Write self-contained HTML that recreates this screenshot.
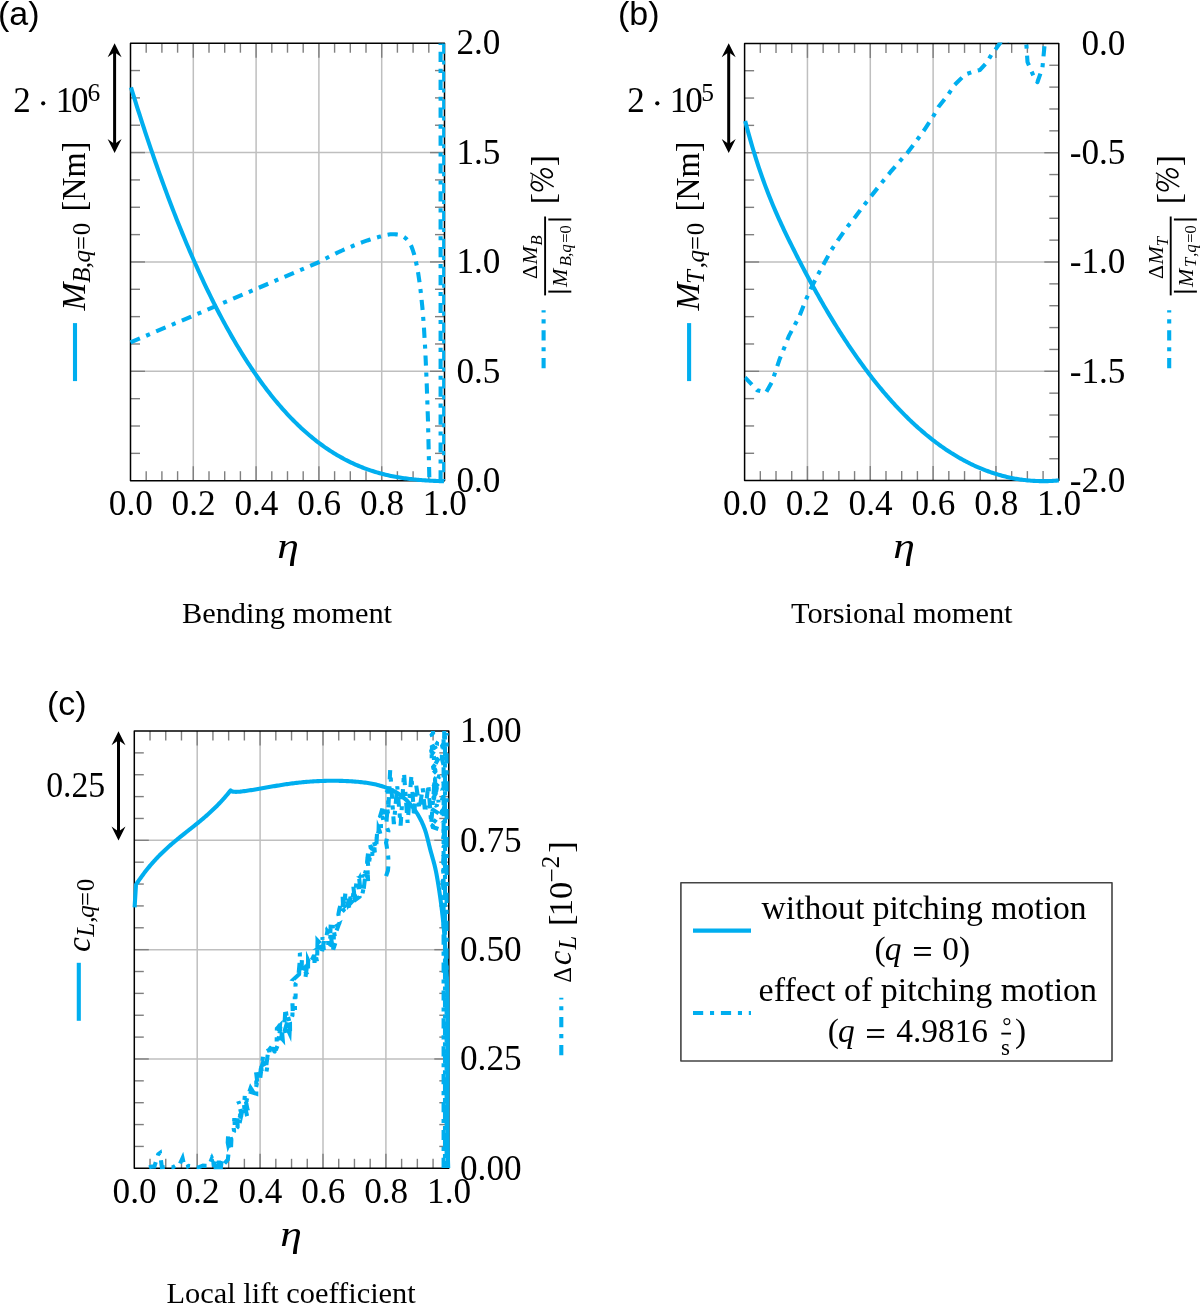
<!DOCTYPE html>
<html><head><meta charset="utf-8"><style>
html,body{margin:0;padding:0;background:#fff;}
svg{display:block;}
text{fill:#000;}
svg{-webkit-font-smoothing:antialiased;will-change:transform;}
</style></head><body>
<svg width="1201" height="1305" viewBox="0 0 1201 1305">
<rect x="0" y="0" width="1201" height="1305" fill="#fff"/>
<defs><clipPath id="cpb"><rect x="744.6" y="42.4" width="314.19999999999993" height="441.20000000000005"/></clipPath><clipPath id="cpc"><rect x="133.3" y="731.0" width="316.5" height="438.29999999999995"/></clipPath></defs>
<line x1="193.3" y1="43.2" x2="193.3" y2="480.7" stroke="#bfbfbf" stroke-width="1.5" />
<line x1="256.1" y1="43.2" x2="256.1" y2="480.7" stroke="#bfbfbf" stroke-width="1.5" />
<line x1="318.9" y1="43.2" x2="318.9" y2="480.7" stroke="#bfbfbf" stroke-width="1.5" />
<line x1="381.7" y1="43.2" x2="381.7" y2="480.7" stroke="#bfbfbf" stroke-width="1.5" />
<line x1="130.5" y1="152.57" x2="444.5" y2="152.57" stroke="#bfbfbf" stroke-width="1.5" />
<line x1="130.5" y1="261.95" x2="444.5" y2="261.95" stroke="#bfbfbf" stroke-width="1.5" />
<line x1="130.5" y1="371.32" x2="444.5" y2="371.32" stroke="#bfbfbf" stroke-width="1.5" />
<line x1="146.2" y1="480.7" x2="146.2" y2="471.2" stroke="#7f7f7f" stroke-width="1.4" />
<line x1="146.2" y1="43.2" x2="146.2" y2="52.7" stroke="#7f7f7f" stroke-width="1.4" />
<line x1="161.9" y1="480.7" x2="161.9" y2="471.2" stroke="#7f7f7f" stroke-width="1.4" />
<line x1="161.9" y1="43.2" x2="161.9" y2="52.7" stroke="#7f7f7f" stroke-width="1.4" />
<line x1="177.6" y1="480.7" x2="177.6" y2="471.2" stroke="#7f7f7f" stroke-width="1.4" />
<line x1="177.6" y1="43.2" x2="177.6" y2="52.7" stroke="#7f7f7f" stroke-width="1.4" />
<line x1="193.3" y1="480.7" x2="193.3" y2="466.2" stroke="#7f7f7f" stroke-width="1.4" />
<line x1="193.3" y1="43.2" x2="193.3" y2="57.7" stroke="#7f7f7f" stroke-width="1.4" />
<line x1="209" y1="480.7" x2="209" y2="471.2" stroke="#7f7f7f" stroke-width="1.4" />
<line x1="209" y1="43.2" x2="209" y2="52.7" stroke="#7f7f7f" stroke-width="1.4" />
<line x1="224.7" y1="480.7" x2="224.7" y2="471.2" stroke="#7f7f7f" stroke-width="1.4" />
<line x1="224.7" y1="43.2" x2="224.7" y2="52.7" stroke="#7f7f7f" stroke-width="1.4" />
<line x1="240.4" y1="480.7" x2="240.4" y2="471.2" stroke="#7f7f7f" stroke-width="1.4" />
<line x1="240.4" y1="43.2" x2="240.4" y2="52.7" stroke="#7f7f7f" stroke-width="1.4" />
<line x1="256.1" y1="480.7" x2="256.1" y2="466.2" stroke="#7f7f7f" stroke-width="1.4" />
<line x1="256.1" y1="43.2" x2="256.1" y2="57.7" stroke="#7f7f7f" stroke-width="1.4" />
<line x1="271.8" y1="480.7" x2="271.8" y2="471.2" stroke="#7f7f7f" stroke-width="1.4" />
<line x1="271.8" y1="43.2" x2="271.8" y2="52.7" stroke="#7f7f7f" stroke-width="1.4" />
<line x1="287.5" y1="480.7" x2="287.5" y2="471.2" stroke="#7f7f7f" stroke-width="1.4" />
<line x1="287.5" y1="43.2" x2="287.5" y2="52.7" stroke="#7f7f7f" stroke-width="1.4" />
<line x1="303.2" y1="480.7" x2="303.2" y2="471.2" stroke="#7f7f7f" stroke-width="1.4" />
<line x1="303.2" y1="43.2" x2="303.2" y2="52.7" stroke="#7f7f7f" stroke-width="1.4" />
<line x1="318.9" y1="480.7" x2="318.9" y2="466.2" stroke="#7f7f7f" stroke-width="1.4" />
<line x1="318.9" y1="43.2" x2="318.9" y2="57.7" stroke="#7f7f7f" stroke-width="1.4" />
<line x1="334.6" y1="480.7" x2="334.6" y2="471.2" stroke="#7f7f7f" stroke-width="1.4" />
<line x1="334.6" y1="43.2" x2="334.6" y2="52.7" stroke="#7f7f7f" stroke-width="1.4" />
<line x1="350.3" y1="480.7" x2="350.3" y2="471.2" stroke="#7f7f7f" stroke-width="1.4" />
<line x1="350.3" y1="43.2" x2="350.3" y2="52.7" stroke="#7f7f7f" stroke-width="1.4" />
<line x1="366" y1="480.7" x2="366" y2="471.2" stroke="#7f7f7f" stroke-width="1.4" />
<line x1="366" y1="43.2" x2="366" y2="52.7" stroke="#7f7f7f" stroke-width="1.4" />
<line x1="381.7" y1="480.7" x2="381.7" y2="466.2" stroke="#7f7f7f" stroke-width="1.4" />
<line x1="381.7" y1="43.2" x2="381.7" y2="57.7" stroke="#7f7f7f" stroke-width="1.4" />
<line x1="397.4" y1="480.7" x2="397.4" y2="471.2" stroke="#7f7f7f" stroke-width="1.4" />
<line x1="397.4" y1="43.2" x2="397.4" y2="52.7" stroke="#7f7f7f" stroke-width="1.4" />
<line x1="413.1" y1="480.7" x2="413.1" y2="471.2" stroke="#7f7f7f" stroke-width="1.4" />
<line x1="413.1" y1="43.2" x2="413.1" y2="52.7" stroke="#7f7f7f" stroke-width="1.4" />
<line x1="428.8" y1="480.7" x2="428.8" y2="471.2" stroke="#7f7f7f" stroke-width="1.4" />
<line x1="428.8" y1="43.2" x2="428.8" y2="52.7" stroke="#7f7f7f" stroke-width="1.4" />
<line x1="130.5" y1="70.54" x2="140" y2="70.54" stroke="#7f7f7f" stroke-width="1.4" />
<line x1="130.5" y1="97.89" x2="140" y2="97.89" stroke="#7f7f7f" stroke-width="1.4" />
<line x1="130.5" y1="125.23" x2="140" y2="125.23" stroke="#7f7f7f" stroke-width="1.4" />
<line x1="130.5" y1="152.57" x2="145" y2="152.57" stroke="#7f7f7f" stroke-width="1.4" />
<line x1="130.5" y1="179.92" x2="140" y2="179.92" stroke="#7f7f7f" stroke-width="1.4" />
<line x1="130.5" y1="207.26" x2="140" y2="207.26" stroke="#7f7f7f" stroke-width="1.4" />
<line x1="130.5" y1="234.61" x2="140" y2="234.61" stroke="#7f7f7f" stroke-width="1.4" />
<line x1="130.5" y1="261.95" x2="145" y2="261.95" stroke="#7f7f7f" stroke-width="1.4" />
<line x1="130.5" y1="289.29" x2="140" y2="289.29" stroke="#7f7f7f" stroke-width="1.4" />
<line x1="130.5" y1="316.64" x2="140" y2="316.64" stroke="#7f7f7f" stroke-width="1.4" />
<line x1="130.5" y1="343.98" x2="140" y2="343.98" stroke="#7f7f7f" stroke-width="1.4" />
<line x1="130.5" y1="371.32" x2="145" y2="371.32" stroke="#7f7f7f" stroke-width="1.4" />
<line x1="130.5" y1="398.67" x2="140" y2="398.67" stroke="#7f7f7f" stroke-width="1.4" />
<line x1="130.5" y1="426.01" x2="140" y2="426.01" stroke="#7f7f7f" stroke-width="1.4" />
<line x1="130.5" y1="453.36" x2="140" y2="453.36" stroke="#7f7f7f" stroke-width="1.4" />
<line x1="444.5" y1="70.54" x2="435" y2="70.54" stroke="#7f7f7f" stroke-width="1.4" />
<line x1="444.5" y1="97.89" x2="435" y2="97.89" stroke="#7f7f7f" stroke-width="1.4" />
<line x1="444.5" y1="125.23" x2="435" y2="125.23" stroke="#7f7f7f" stroke-width="1.4" />
<line x1="444.5" y1="152.57" x2="430" y2="152.57" stroke="#7f7f7f" stroke-width="1.4" />
<line x1="444.5" y1="179.92" x2="435" y2="179.92" stroke="#7f7f7f" stroke-width="1.4" />
<line x1="444.5" y1="207.26" x2="435" y2="207.26" stroke="#7f7f7f" stroke-width="1.4" />
<line x1="444.5" y1="234.61" x2="435" y2="234.61" stroke="#7f7f7f" stroke-width="1.4" />
<line x1="444.5" y1="261.95" x2="430" y2="261.95" stroke="#7f7f7f" stroke-width="1.4" />
<line x1="444.5" y1="289.29" x2="435" y2="289.29" stroke="#7f7f7f" stroke-width="1.4" />
<line x1="444.5" y1="316.64" x2="435" y2="316.64" stroke="#7f7f7f" stroke-width="1.4" />
<line x1="444.5" y1="343.98" x2="435" y2="343.98" stroke="#7f7f7f" stroke-width="1.4" />
<line x1="444.5" y1="371.32" x2="430" y2="371.32" stroke="#7f7f7f" stroke-width="1.4" />
<line x1="444.5" y1="398.67" x2="435" y2="398.67" stroke="#7f7f7f" stroke-width="1.4" />
<line x1="444.5" y1="426.01" x2="435" y2="426.01" stroke="#7f7f7f" stroke-width="1.4" />
<line x1="444.5" y1="453.36" x2="435" y2="453.36" stroke="#7f7f7f" stroke-width="1.4" />
<rect x="130.5" y="43.2" width="314" height="437.5" fill="none" stroke="#000" stroke-width="1.5" stroke-linejoin="round"/>
<line x1="807.44" y1="43.4" x2="807.44" y2="480.6" stroke="#bfbfbf" stroke-width="1.5" />
<line x1="870.28" y1="43.4" x2="870.28" y2="480.6" stroke="#bfbfbf" stroke-width="1.5" />
<line x1="933.12" y1="43.4" x2="933.12" y2="480.6" stroke="#bfbfbf" stroke-width="1.5" />
<line x1="995.96" y1="43.4" x2="995.96" y2="480.6" stroke="#bfbfbf" stroke-width="1.5" />
<line x1="744.6" y1="152.7" x2="1058.8" y2="152.7" stroke="#bfbfbf" stroke-width="1.5" />
<line x1="744.6" y1="262" x2="1058.8" y2="262" stroke="#bfbfbf" stroke-width="1.5" />
<line x1="744.6" y1="371.3" x2="1058.8" y2="371.3" stroke="#bfbfbf" stroke-width="1.5" />
<line x1="760.31" y1="480.6" x2="760.31" y2="471.1" stroke="#7f7f7f" stroke-width="1.4" />
<line x1="760.31" y1="43.4" x2="760.31" y2="52.9" stroke="#7f7f7f" stroke-width="1.4" />
<line x1="776.02" y1="480.6" x2="776.02" y2="471.1" stroke="#7f7f7f" stroke-width="1.4" />
<line x1="776.02" y1="43.4" x2="776.02" y2="52.9" stroke="#7f7f7f" stroke-width="1.4" />
<line x1="791.73" y1="480.6" x2="791.73" y2="471.1" stroke="#7f7f7f" stroke-width="1.4" />
<line x1="791.73" y1="43.4" x2="791.73" y2="52.9" stroke="#7f7f7f" stroke-width="1.4" />
<line x1="807.44" y1="480.6" x2="807.44" y2="466.1" stroke="#7f7f7f" stroke-width="1.4" />
<line x1="807.44" y1="43.4" x2="807.44" y2="57.9" stroke="#7f7f7f" stroke-width="1.4" />
<line x1="823.15" y1="480.6" x2="823.15" y2="471.1" stroke="#7f7f7f" stroke-width="1.4" />
<line x1="823.15" y1="43.4" x2="823.15" y2="52.9" stroke="#7f7f7f" stroke-width="1.4" />
<line x1="838.86" y1="480.6" x2="838.86" y2="471.1" stroke="#7f7f7f" stroke-width="1.4" />
<line x1="838.86" y1="43.4" x2="838.86" y2="52.9" stroke="#7f7f7f" stroke-width="1.4" />
<line x1="854.57" y1="480.6" x2="854.57" y2="471.1" stroke="#7f7f7f" stroke-width="1.4" />
<line x1="854.57" y1="43.4" x2="854.57" y2="52.9" stroke="#7f7f7f" stroke-width="1.4" />
<line x1="870.28" y1="480.6" x2="870.28" y2="466.1" stroke="#7f7f7f" stroke-width="1.4" />
<line x1="870.28" y1="43.4" x2="870.28" y2="57.9" stroke="#7f7f7f" stroke-width="1.4" />
<line x1="885.99" y1="480.6" x2="885.99" y2="471.1" stroke="#7f7f7f" stroke-width="1.4" />
<line x1="885.99" y1="43.4" x2="885.99" y2="52.9" stroke="#7f7f7f" stroke-width="1.4" />
<line x1="901.7" y1="480.6" x2="901.7" y2="471.1" stroke="#7f7f7f" stroke-width="1.4" />
<line x1="901.7" y1="43.4" x2="901.7" y2="52.9" stroke="#7f7f7f" stroke-width="1.4" />
<line x1="917.41" y1="480.6" x2="917.41" y2="471.1" stroke="#7f7f7f" stroke-width="1.4" />
<line x1="917.41" y1="43.4" x2="917.41" y2="52.9" stroke="#7f7f7f" stroke-width="1.4" />
<line x1="933.12" y1="480.6" x2="933.12" y2="466.1" stroke="#7f7f7f" stroke-width="1.4" />
<line x1="933.12" y1="43.4" x2="933.12" y2="57.9" stroke="#7f7f7f" stroke-width="1.4" />
<line x1="948.83" y1="480.6" x2="948.83" y2="471.1" stroke="#7f7f7f" stroke-width="1.4" />
<line x1="948.83" y1="43.4" x2="948.83" y2="52.9" stroke="#7f7f7f" stroke-width="1.4" />
<line x1="964.54" y1="480.6" x2="964.54" y2="471.1" stroke="#7f7f7f" stroke-width="1.4" />
<line x1="964.54" y1="43.4" x2="964.54" y2="52.9" stroke="#7f7f7f" stroke-width="1.4" />
<line x1="980.25" y1="480.6" x2="980.25" y2="471.1" stroke="#7f7f7f" stroke-width="1.4" />
<line x1="980.25" y1="43.4" x2="980.25" y2="52.9" stroke="#7f7f7f" stroke-width="1.4" />
<line x1="995.96" y1="480.6" x2="995.96" y2="466.1" stroke="#7f7f7f" stroke-width="1.4" />
<line x1="995.96" y1="43.4" x2="995.96" y2="57.9" stroke="#7f7f7f" stroke-width="1.4" />
<line x1="1011.67" y1="480.6" x2="1011.67" y2="471.1" stroke="#7f7f7f" stroke-width="1.4" />
<line x1="1011.67" y1="43.4" x2="1011.67" y2="52.9" stroke="#7f7f7f" stroke-width="1.4" />
<line x1="1027.38" y1="480.6" x2="1027.38" y2="471.1" stroke="#7f7f7f" stroke-width="1.4" />
<line x1="1027.38" y1="43.4" x2="1027.38" y2="52.9" stroke="#7f7f7f" stroke-width="1.4" />
<line x1="1043.09" y1="480.6" x2="1043.09" y2="471.1" stroke="#7f7f7f" stroke-width="1.4" />
<line x1="1043.09" y1="43.4" x2="1043.09" y2="52.9" stroke="#7f7f7f" stroke-width="1.4" />
<line x1="744.6" y1="70.72" x2="754.1" y2="70.72" stroke="#7f7f7f" stroke-width="1.4" />
<line x1="744.6" y1="98.05" x2="754.1" y2="98.05" stroke="#7f7f7f" stroke-width="1.4" />
<line x1="744.6" y1="125.38" x2="754.1" y2="125.38" stroke="#7f7f7f" stroke-width="1.4" />
<line x1="744.6" y1="152.7" x2="759.1" y2="152.7" stroke="#7f7f7f" stroke-width="1.4" />
<line x1="744.6" y1="180.03" x2="754.1" y2="180.03" stroke="#7f7f7f" stroke-width="1.4" />
<line x1="744.6" y1="207.35" x2="754.1" y2="207.35" stroke="#7f7f7f" stroke-width="1.4" />
<line x1="744.6" y1="234.68" x2="754.1" y2="234.68" stroke="#7f7f7f" stroke-width="1.4" />
<line x1="744.6" y1="262" x2="759.1" y2="262" stroke="#7f7f7f" stroke-width="1.4" />
<line x1="744.6" y1="289.32" x2="754.1" y2="289.32" stroke="#7f7f7f" stroke-width="1.4" />
<line x1="744.6" y1="316.65" x2="754.1" y2="316.65" stroke="#7f7f7f" stroke-width="1.4" />
<line x1="744.6" y1="343.98" x2="754.1" y2="343.98" stroke="#7f7f7f" stroke-width="1.4" />
<line x1="744.6" y1="371.3" x2="759.1" y2="371.3" stroke="#7f7f7f" stroke-width="1.4" />
<line x1="744.6" y1="398.62" x2="754.1" y2="398.62" stroke="#7f7f7f" stroke-width="1.4" />
<line x1="744.6" y1="425.95" x2="754.1" y2="425.95" stroke="#7f7f7f" stroke-width="1.4" />
<line x1="744.6" y1="453.28" x2="754.1" y2="453.28" stroke="#7f7f7f" stroke-width="1.4" />
<line x1="1058.8" y1="65.26" x2="1049.3" y2="65.26" stroke="#7f7f7f" stroke-width="1.4" />
<line x1="1058.8" y1="87.12" x2="1049.3" y2="87.12" stroke="#7f7f7f" stroke-width="1.4" />
<line x1="1058.8" y1="108.98" x2="1049.3" y2="108.98" stroke="#7f7f7f" stroke-width="1.4" />
<line x1="1058.8" y1="130.84" x2="1049.3" y2="130.84" stroke="#7f7f7f" stroke-width="1.4" />
<line x1="1058.8" y1="152.7" x2="1044.3" y2="152.7" stroke="#7f7f7f" stroke-width="1.4" />
<line x1="1058.8" y1="174.56" x2="1049.3" y2="174.56" stroke="#7f7f7f" stroke-width="1.4" />
<line x1="1058.8" y1="196.42" x2="1049.3" y2="196.42" stroke="#7f7f7f" stroke-width="1.4" />
<line x1="1058.8" y1="218.28" x2="1049.3" y2="218.28" stroke="#7f7f7f" stroke-width="1.4" />
<line x1="1058.8" y1="240.14" x2="1049.3" y2="240.14" stroke="#7f7f7f" stroke-width="1.4" />
<line x1="1058.8" y1="262" x2="1044.3" y2="262" stroke="#7f7f7f" stroke-width="1.4" />
<line x1="1058.8" y1="283.86" x2="1049.3" y2="283.86" stroke="#7f7f7f" stroke-width="1.4" />
<line x1="1058.8" y1="305.72" x2="1049.3" y2="305.72" stroke="#7f7f7f" stroke-width="1.4" />
<line x1="1058.8" y1="327.58" x2="1049.3" y2="327.58" stroke="#7f7f7f" stroke-width="1.4" />
<line x1="1058.8" y1="349.44" x2="1049.3" y2="349.44" stroke="#7f7f7f" stroke-width="1.4" />
<line x1="1058.8" y1="371.3" x2="1044.3" y2="371.3" stroke="#7f7f7f" stroke-width="1.4" />
<line x1="1058.8" y1="393.16" x2="1049.3" y2="393.16" stroke="#7f7f7f" stroke-width="1.4" />
<line x1="1058.8" y1="415.02" x2="1049.3" y2="415.02" stroke="#7f7f7f" stroke-width="1.4" />
<line x1="1058.8" y1="436.88" x2="1049.3" y2="436.88" stroke="#7f7f7f" stroke-width="1.4" />
<line x1="1058.8" y1="458.74" x2="1049.3" y2="458.74" stroke="#7f7f7f" stroke-width="1.4" />
<rect x="744.6" y="43.4" width="314.2" height="437.2" fill="none" stroke="#000" stroke-width="1.5" stroke-linejoin="round"/>
<line x1="197.2" y1="731" x2="197.2" y2="1168.3" stroke="#bfbfbf" stroke-width="1.5" />
<line x1="260.1" y1="731" x2="260.1" y2="1168.3" stroke="#bfbfbf" stroke-width="1.5" />
<line x1="323" y1="731" x2="323" y2="1168.3" stroke="#bfbfbf" stroke-width="1.5" />
<line x1="385.9" y1="731" x2="385.9" y2="1168.3" stroke="#bfbfbf" stroke-width="1.5" />
<line x1="134.3" y1="840.33" x2="448.8" y2="840.33" stroke="#bfbfbf" stroke-width="1.5" />
<line x1="134.3" y1="949.65" x2="448.8" y2="949.65" stroke="#bfbfbf" stroke-width="1.5" />
<line x1="134.3" y1="1058.97" x2="448.8" y2="1058.97" stroke="#bfbfbf" stroke-width="1.5" />
<line x1="150.03" y1="1168.3" x2="150.03" y2="1158.8" stroke="#7f7f7f" stroke-width="1.4" />
<line x1="150.03" y1="731" x2="150.03" y2="740.5" stroke="#7f7f7f" stroke-width="1.4" />
<line x1="165.75" y1="1168.3" x2="165.75" y2="1158.8" stroke="#7f7f7f" stroke-width="1.4" />
<line x1="165.75" y1="731" x2="165.75" y2="740.5" stroke="#7f7f7f" stroke-width="1.4" />
<line x1="181.48" y1="1168.3" x2="181.48" y2="1158.8" stroke="#7f7f7f" stroke-width="1.4" />
<line x1="181.48" y1="731" x2="181.48" y2="740.5" stroke="#7f7f7f" stroke-width="1.4" />
<line x1="197.2" y1="1168.3" x2="197.2" y2="1153.8" stroke="#7f7f7f" stroke-width="1.4" />
<line x1="197.2" y1="731" x2="197.2" y2="745.5" stroke="#7f7f7f" stroke-width="1.4" />
<line x1="212.93" y1="1168.3" x2="212.93" y2="1158.8" stroke="#7f7f7f" stroke-width="1.4" />
<line x1="212.93" y1="731" x2="212.93" y2="740.5" stroke="#7f7f7f" stroke-width="1.4" />
<line x1="228.65" y1="1168.3" x2="228.65" y2="1158.8" stroke="#7f7f7f" stroke-width="1.4" />
<line x1="228.65" y1="731" x2="228.65" y2="740.5" stroke="#7f7f7f" stroke-width="1.4" />
<line x1="244.38" y1="1168.3" x2="244.38" y2="1158.8" stroke="#7f7f7f" stroke-width="1.4" />
<line x1="244.38" y1="731" x2="244.38" y2="740.5" stroke="#7f7f7f" stroke-width="1.4" />
<line x1="260.1" y1="1168.3" x2="260.1" y2="1153.8" stroke="#7f7f7f" stroke-width="1.4" />
<line x1="260.1" y1="731" x2="260.1" y2="745.5" stroke="#7f7f7f" stroke-width="1.4" />
<line x1="275.83" y1="1168.3" x2="275.83" y2="1158.8" stroke="#7f7f7f" stroke-width="1.4" />
<line x1="275.83" y1="731" x2="275.83" y2="740.5" stroke="#7f7f7f" stroke-width="1.4" />
<line x1="291.55" y1="1168.3" x2="291.55" y2="1158.8" stroke="#7f7f7f" stroke-width="1.4" />
<line x1="291.55" y1="731" x2="291.55" y2="740.5" stroke="#7f7f7f" stroke-width="1.4" />
<line x1="307.27" y1="1168.3" x2="307.27" y2="1158.8" stroke="#7f7f7f" stroke-width="1.4" />
<line x1="307.27" y1="731" x2="307.27" y2="740.5" stroke="#7f7f7f" stroke-width="1.4" />
<line x1="323" y1="1168.3" x2="323" y2="1153.8" stroke="#7f7f7f" stroke-width="1.4" />
<line x1="323" y1="731" x2="323" y2="745.5" stroke="#7f7f7f" stroke-width="1.4" />
<line x1="338.73" y1="1168.3" x2="338.73" y2="1158.8" stroke="#7f7f7f" stroke-width="1.4" />
<line x1="338.73" y1="731" x2="338.73" y2="740.5" stroke="#7f7f7f" stroke-width="1.4" />
<line x1="354.45" y1="1168.3" x2="354.45" y2="1158.8" stroke="#7f7f7f" stroke-width="1.4" />
<line x1="354.45" y1="731" x2="354.45" y2="740.5" stroke="#7f7f7f" stroke-width="1.4" />
<line x1="370.18" y1="1168.3" x2="370.18" y2="1158.8" stroke="#7f7f7f" stroke-width="1.4" />
<line x1="370.18" y1="731" x2="370.18" y2="740.5" stroke="#7f7f7f" stroke-width="1.4" />
<line x1="385.9" y1="1168.3" x2="385.9" y2="1153.8" stroke="#7f7f7f" stroke-width="1.4" />
<line x1="385.9" y1="731" x2="385.9" y2="745.5" stroke="#7f7f7f" stroke-width="1.4" />
<line x1="401.62" y1="1168.3" x2="401.62" y2="1158.8" stroke="#7f7f7f" stroke-width="1.4" />
<line x1="401.62" y1="731" x2="401.62" y2="740.5" stroke="#7f7f7f" stroke-width="1.4" />
<line x1="417.35" y1="1168.3" x2="417.35" y2="1158.8" stroke="#7f7f7f" stroke-width="1.4" />
<line x1="417.35" y1="731" x2="417.35" y2="740.5" stroke="#7f7f7f" stroke-width="1.4" />
<line x1="433.07" y1="1168.3" x2="433.07" y2="1158.8" stroke="#7f7f7f" stroke-width="1.4" />
<line x1="433.07" y1="731" x2="433.07" y2="740.5" stroke="#7f7f7f" stroke-width="1.4" />
<line x1="134.3" y1="752.87" x2="143.8" y2="752.87" stroke="#7f7f7f" stroke-width="1.4" />
<line x1="134.3" y1="774.73" x2="143.8" y2="774.73" stroke="#7f7f7f" stroke-width="1.4" />
<line x1="134.3" y1="796.6" x2="143.8" y2="796.6" stroke="#7f7f7f" stroke-width="1.4" />
<line x1="134.3" y1="818.46" x2="143.8" y2="818.46" stroke="#7f7f7f" stroke-width="1.4" />
<line x1="134.3" y1="840.33" x2="148.8" y2="840.33" stroke="#7f7f7f" stroke-width="1.4" />
<line x1="134.3" y1="862.19" x2="143.8" y2="862.19" stroke="#7f7f7f" stroke-width="1.4" />
<line x1="134.3" y1="884.05" x2="143.8" y2="884.05" stroke="#7f7f7f" stroke-width="1.4" />
<line x1="134.3" y1="905.92" x2="143.8" y2="905.92" stroke="#7f7f7f" stroke-width="1.4" />
<line x1="134.3" y1="927.78" x2="143.8" y2="927.78" stroke="#7f7f7f" stroke-width="1.4" />
<line x1="134.3" y1="949.65" x2="148.8" y2="949.65" stroke="#7f7f7f" stroke-width="1.4" />
<line x1="134.3" y1="971.51" x2="143.8" y2="971.51" stroke="#7f7f7f" stroke-width="1.4" />
<line x1="134.3" y1="993.38" x2="143.8" y2="993.38" stroke="#7f7f7f" stroke-width="1.4" />
<line x1="134.3" y1="1015.25" x2="143.8" y2="1015.25" stroke="#7f7f7f" stroke-width="1.4" />
<line x1="134.3" y1="1037.11" x2="143.8" y2="1037.11" stroke="#7f7f7f" stroke-width="1.4" />
<line x1="134.3" y1="1058.97" x2="148.8" y2="1058.97" stroke="#7f7f7f" stroke-width="1.4" />
<line x1="134.3" y1="1080.84" x2="143.8" y2="1080.84" stroke="#7f7f7f" stroke-width="1.4" />
<line x1="134.3" y1="1102.7" x2="143.8" y2="1102.7" stroke="#7f7f7f" stroke-width="1.4" />
<line x1="134.3" y1="1124.57" x2="143.8" y2="1124.57" stroke="#7f7f7f" stroke-width="1.4" />
<line x1="134.3" y1="1146.43" x2="143.8" y2="1146.43" stroke="#7f7f7f" stroke-width="1.4" />
<line x1="448.8" y1="752.87" x2="439.3" y2="752.87" stroke="#7f7f7f" stroke-width="1.4" />
<line x1="448.8" y1="774.73" x2="439.3" y2="774.73" stroke="#7f7f7f" stroke-width="1.4" />
<line x1="448.8" y1="796.6" x2="439.3" y2="796.6" stroke="#7f7f7f" stroke-width="1.4" />
<line x1="448.8" y1="818.46" x2="439.3" y2="818.46" stroke="#7f7f7f" stroke-width="1.4" />
<line x1="448.8" y1="840.33" x2="434.3" y2="840.33" stroke="#7f7f7f" stroke-width="1.4" />
<line x1="448.8" y1="862.19" x2="439.3" y2="862.19" stroke="#7f7f7f" stroke-width="1.4" />
<line x1="448.8" y1="884.05" x2="439.3" y2="884.05" stroke="#7f7f7f" stroke-width="1.4" />
<line x1="448.8" y1="905.92" x2="439.3" y2="905.92" stroke="#7f7f7f" stroke-width="1.4" />
<line x1="448.8" y1="927.78" x2="439.3" y2="927.78" stroke="#7f7f7f" stroke-width="1.4" />
<line x1="448.8" y1="949.65" x2="434.3" y2="949.65" stroke="#7f7f7f" stroke-width="1.4" />
<line x1="448.8" y1="971.51" x2="439.3" y2="971.51" stroke="#7f7f7f" stroke-width="1.4" />
<line x1="448.8" y1="993.38" x2="439.3" y2="993.38" stroke="#7f7f7f" stroke-width="1.4" />
<line x1="448.8" y1="1015.25" x2="439.3" y2="1015.25" stroke="#7f7f7f" stroke-width="1.4" />
<line x1="448.8" y1="1037.11" x2="439.3" y2="1037.11" stroke="#7f7f7f" stroke-width="1.4" />
<line x1="448.8" y1="1058.97" x2="434.3" y2="1058.97" stroke="#7f7f7f" stroke-width="1.4" />
<line x1="448.8" y1="1080.84" x2="439.3" y2="1080.84" stroke="#7f7f7f" stroke-width="1.4" />
<line x1="448.8" y1="1102.7" x2="439.3" y2="1102.7" stroke="#7f7f7f" stroke-width="1.4" />
<line x1="448.8" y1="1124.57" x2="439.3" y2="1124.57" stroke="#7f7f7f" stroke-width="1.4" />
<line x1="448.8" y1="1146.43" x2="439.3" y2="1146.43" stroke="#7f7f7f" stroke-width="1.4" />
<rect x="134.3" y="731" width="314.5" height="437.3" fill="none" stroke="#000" stroke-width="1.5" stroke-linejoin="round"/>
<path d="M131 87.41 L132.43 92.05 L133.86 96.66 L135.29 101.23 L136.72 105.77 L138.15 110.27 L139.58 114.74 L141 119.18 L142.43 123.58 L143.86 127.95 L145.29 132.28 L146.72 136.59 L148.15 140.86 L149.58 145.09 L151.01 149.29 L152.44 153.46 L153.87 157.6 L155.3 161.71 L156.73 165.78 L158.16 169.82 L159.58 173.82 L161.01 177.8 L162.44 181.74 L163.87 185.65 L165.3 189.53 L166.73 193.37 L168.16 197.19 L169.59 200.97 L171.02 204.72 L172.45 208.44 L173.88 212.13 L175.31 215.79 L176.74 219.41 L178.16 223.01 L179.59 226.57 L181.02 230.1 L182.45 233.61 L183.88 237.08 L185.31 240.52 L186.74 243.93 L188.17 247.31 L189.6 250.66 L191.03 253.98 L192.46 257.27 L193.89 260.53 L195.32 263.75 L196.74 266.95 L198.17 270.12 L199.6 273.27 L201.03 276.38 L202.46 279.46 L203.89 282.51 L205.32 285.54 L206.75 288.53 L208.18 291.5 L209.61 294.43 L211.04 297.34 L212.47 300.22 L213.89 303.08 L215.32 305.9 L216.75 308.69 L218.18 311.46 L219.61 314.2 L221.04 316.91 L222.47 319.6 L223.9 322.25 L225.33 324.88 L226.76 327.48 L228.19 330.06 L229.62 332.6 L231.05 335.12 L232.47 337.62 L233.9 340.08 L235.33 342.52 L236.76 344.93 L238.19 347.32 L239.62 349.68 L241.05 352.01 L242.48 354.32 L243.91 356.6 L245.34 358.86 L246.77 361.09 L248.2 363.29 L249.63 365.47 L251.05 367.62 L252.48 369.75 L253.91 371.85 L255.34 373.93 L256.77 375.98 L258.2 378.01 L259.63 380.01 L261.06 381.99 L262.49 383.94 L263.92 385.87 L265.35 387.78 L266.78 389.66 L268.21 391.51 L269.63 393.35 L271.06 395.16 L272.49 396.94 L273.92 398.7 L275.35 400.44 L276.78 402.16 L278.21 403.85 L279.64 405.52 L281.07 407.17 L282.5 408.79 L283.93 410.39 L285.36 411.97 L286.79 413.53 L288.21 415.06 L289.64 416.57 L291.07 418.06 L292.5 419.53 L293.93 420.97 L295.36 422.4 L296.79 423.8 L298.22 425.18 L299.65 426.54 L301.08 427.88 L302.51 429.2 L303.94 430.5 L305.37 431.78 L306.79 433.03 L308.22 434.27 L309.65 435.48 L311.08 436.68 L312.51 437.85 L313.94 439.01 L315.37 440.15 L316.8 441.26 L318.23 442.36 L319.66 443.44 L321.09 444.49 L322.52 445.53 L323.95 446.55 L325.37 447.56 L326.8 448.54 L328.23 449.5 L329.66 450.45 L331.09 451.38 L332.52 452.29 L333.95 453.18 L335.38 454.05 L336.81 454.91 L338.24 455.75 L339.67 456.57 L341.1 457.37 L342.53 458.16 L343.95 458.93 L345.38 459.69 L346.81 460.42 L348.24 461.14 L349.67 461.85 L351.1 462.54 L352.53 463.21 L353.96 463.87 L355.39 464.51 L356.82 465.13 L358.25 465.74 L359.68 466.34 L361.11 466.92 L362.53 467.48 L363.96 468.04 L365.39 468.57 L366.82 469.09 L368.25 469.6 L369.68 470.09 L371.11 470.57 L372.54 471.04 L373.97 471.49 L375.4 471.93 L376.83 472.36 L378.26 472.77 L379.68 473.17 L381.11 473.56 L382.54 473.94 L383.97 474.3 L385.4 474.65 L386.83 474.99 L388.26 475.32 L389.69 475.63 L391.12 475.94 L392.55 476.23 L393.98 476.51 L395.41 476.78 L396.84 477.04 L398.26 477.3 L399.69 477.54 L401.12 477.77 L402.55 477.99 L403.98 478.2 L405.41 478.4 L406.84 478.59 L408.27 478.78 L409.7 478.95 L411.13 479.12 L412.56 479.28 L413.99 479.43 L415.42 479.57 L416.84 479.71 L418.27 479.84 L419.7 479.96 L421.13 480.07 L422.56 480.18 L423.99 480.28 L425.42 480.38 L426.85 480.47 L428.28 480.55 L429.71 480.63 L431.14 480.71 L432.57 480.78 L434 480.84 L435.42 480.91 L436.85 480.97 L438.28 481.02 L439.71 481.08 L441.14 481.13 L442.57 481.18 L444 481.23" fill="none" stroke="#00AEEF" stroke-width="4.1" stroke-linejoin="round"/>
<path d="M130.5 342.4 L319.3 262 L320.69 261.23 L322.09 260.47 L323.48 259.72 L324.87 258.98 L326.27 258.25 L327.66 257.52 L329.06 256.8 L330.45 256.09 L331.84 255.39 L333.24 254.7 L334.63 254.02 L336.02 253.34 L337.42 252.68 L338.81 252.02 L340.21 251.38 L341.6 250.74 L342.99 250.11 L344.39 249.49 L345.78 248.89 L347.17 248.29 L348.57 247.7 L349.96 247.13 L351.35 246.56 L352.75 246 L354.14 245.44 L355.54 244.89 L356.93 244.33 L358.32 243.79 L359.72 243.25 L361.11 242.72 L362.5 242.19 L363.9 241.67 L365.29 241.17 L366.68 240.67 L368.08 240.19 L369.47 239.71 L370.87 239.25 L372.26 238.81 L373.65 238.38 L375.05 237.97 L376.44 237.58 L377.83 237.2 L379.23 236.84 L380.62 236.49 L382.02 236.11 L383.41 235.73 L384.8 235.36 L386.2 235.02 L387.59 234.72 L388.98 234.47 L390.38 234.3 L391.77 234.21 L393.16 234.21 L394.56 234.28 L395.95 234.4 L397.35 234.57 L398.74 234.78 L400.13 235.03 L401.53 235.5 L402.92 236.27 L404.31 237.24 L405.71 238.3 L407.1 239.63 L408.49 241.29 L409.89 243.32 L411.28 246.06 L412.68 249.75 L414.07 254.13 L415.46 259.54 L416.86 266.07 L418.25 273.65 L419.64 282.98 L421.04 294.35 L422.43 308.06 L423.83 325.49 L425.22 349.48 L426.61 380.73 L428.01 421.27 L429.4 480.8" fill="none" stroke="#00AEEF" stroke-width="4.1" stroke-dasharray="10.2 6.8 4.1 6.8" stroke-linejoin="round"/>
<path d="M440.6 480.5 L440.6 43.5" fill="none" stroke="#00AEEF" stroke-width="4.1" stroke-dasharray="10.2 6.8 4.1 6.8" stroke-linejoin="round"/>
<path d="M443.6 43.5 L443.6 480.5" fill="none" stroke="#00AEEF" stroke-width="3" stroke-dasharray="10.2 6.8 4.1 6.8" stroke-linejoin="round"/>
<path d="M745.2 121.06 L746.41 125.67 L747.62 130.18 L748.83 134.59 L750.04 138.91 L751.25 143.12 L752.46 147.24 L753.68 151.28 L754.89 155.22 L756.1 159.08 L757.31 162.85 L758.52 166.54 L759.73 170.15 L760.94 173.69 L762.15 177.15 L763.36 180.55 L764.57 183.87 L765.78 187.13 L766.99 190.32 L768.21 193.45 L769.42 196.53 L770.63 199.55 L771.84 202.51 L773.05 205.43 L774.26 208.29 L775.47 211.11 L776.68 213.88 L777.89 216.62 L779.1 219.31 L780.31 221.97 L781.52 224.6 L782.74 227.19 L783.95 229.76 L785.16 232.3 L786.37 234.81 L787.58 237.31 L788.79 239.78 L790 242.24 L791.21 244.69 L792.42 247.12 L793.63 249.54 L794.84 251.95 L796.05 254.34 L797.26 256.72 L798.48 259.08 L799.69 261.43 L800.9 263.77 L802.11 266.1 L803.32 268.41 L804.53 270.71 L805.74 272.99 L806.95 275.26 L808.16 277.52 L809.37 279.77 L810.58 282 L811.79 284.22 L813.01 286.42 L814.22 288.61 L815.43 290.79 L816.64 292.95 L817.85 295.11 L819.06 297.24 L820.27 299.37 L821.48 301.48 L822.69 303.58 L823.9 305.66 L825.11 307.73 L826.32 309.79 L827.54 311.83 L828.75 313.86 L829.96 315.88 L831.17 317.89 L832.38 319.88 L833.59 321.85 L834.8 323.82 L836.01 325.77 L837.22 327.71 L838.43 329.63 L839.64 331.54 L840.85 333.44 L842.06 335.32 L843.28 337.2 L844.49 339.05 L845.7 340.9 L846.91 342.73 L848.12 344.55 L849.33 346.35 L850.54 348.14 L851.75 349.92 L852.96 351.69 L854.17 353.44 L855.38 355.18 L856.59 356.9 L857.81 358.62 L859.02 360.31 L860.23 362 L861.44 363.67 L862.65 365.33 L863.86 366.98 L865.07 368.61 L866.28 370.23 L867.49 371.84 L868.7 373.43 L869.91 375.01 L871.12 376.58 L872.34 378.14 L873.55 379.68 L874.76 381.21 L875.97 382.73 L877.18 384.23 L878.39 385.72 L879.6 387.2 L880.81 388.67 L882.02 390.12 L883.23 391.56 L884.44 392.99 L885.65 394.4 L886.86 395.81 L888.08 397.2 L889.29 398.57 L890.5 399.94 L891.71 401.29 L892.92 402.63 L894.13 403.96 L895.34 405.27 L896.55 406.58 L897.76 407.87 L898.97 409.14 L900.18 410.41 L901.39 411.66 L902.61 412.91 L903.82 414.14 L905.03 415.35 L906.24 416.56 L907.45 417.75 L908.66 418.93 L909.87 420.1 L911.08 421.26 L912.29 422.4 L913.5 423.53 L914.71 424.65 L915.92 425.76 L917.14 426.86 L918.35 427.95 L919.56 429.02 L920.77 430.08 L921.98 431.13 L923.19 432.17 L924.4 433.19 L925.61 434.21 L926.82 435.21 L928.03 436.2 L929.24 437.18 L930.45 438.15 L931.66 439.1 L932.88 440.05 L934.09 440.98 L935.3 441.9 L936.51 442.81 L937.72 443.71 L938.93 444.6 L940.14 445.47 L941.35 446.34 L942.56 447.19 L943.77 448.03 L944.98 448.86 L946.19 449.68 L947.41 450.49 L948.62 451.29 L949.83 452.07 L951.04 452.85 L952.25 453.61 L953.46 454.36 L954.67 455.1 L955.88 455.83 L957.09 456.55 L958.3 457.26 L959.51 457.96 L960.72 458.65 L961.94 459.32 L963.15 459.99 L964.36 460.64 L965.57 461.28 L966.78 461.91 L967.99 462.53 L969.2 463.15 L970.41 463.74 L971.62 464.33 L972.83 464.91 L974.04 465.48 L975.25 466.04 L976.46 466.58 L977.68 467.12 L978.89 467.65 L980.1 468.16 L981.31 468.66 L982.52 469.16 L983.73 469.64 L984.94 470.12 L986.15 470.58 L987.36 471.03 L988.57 471.47 L989.78 471.91 L990.99 472.33 L992.21 472.74 L993.42 473.14 L994.63 473.53 L995.84 473.91 L997.05 474.28 L998.26 474.64 L999.47 474.99 L1000.68 475.34 L1001.89 475.67 L1003.1 475.99 L1004.31 476.3 L1005.52 476.6 L1006.74 476.89 L1007.95 477.17 L1009.16 477.44 L1010.37 477.7 L1011.58 477.95 L1012.79 478.2 L1014 478.43 L1015.21 478.65 L1016.42 478.86 L1017.63 479.06 L1018.84 479.26 L1020.05 479.44 L1021.26 479.62 L1022.48 479.78 L1023.69 479.94 L1024.9 480.08 L1026.11 480.22 L1027.32 480.34 L1028.53 480.46 L1029.74 480.57 L1030.95 480.67 L1032.16 480.76 L1033.37 480.84 L1034.58 480.91 L1035.79 480.97 L1037.01 481.02 L1038.22 481.06 L1039.43 481.1 L1040.64 481.12 L1041.85 481.14 L1043.06 481.14 L1044.27 481.14 L1045.48 481.13 L1046.69 481.11 L1047.9 481.08 L1049.11 481.04 L1050.32 480.99 L1051.54 480.93 L1052.75 480.87 L1053.96 480.79 L1055.17 480.71 L1056.38 480.62 L1057.59 480.52 L1058.8 480.41" fill="none" stroke="#00AEEF" stroke-width="4.1" stroke-linejoin="round"/>
<path d="M744.9 377.3 L757.2 390.3 L766 392.5 L771.9 382.2 L779.3 360.1 L789.1 335.6 L794.5 325.4 L799.1 316.8 L806 299.5 L811.7 286.9 L817.5 275.4 L824.4 262.8 L831.3 250.1 L838.2 239.8 L846.2 228.3 L855.4 216.8 L863.4 205.9 L870.3 197.2 L880.7 184 L890.3 172.2 L899.5 161.6 L907.6 152.6 L915.9 141.6 L923.7 130.8 L932.9 117 L938.6 106.7 L947.8 95.2 L954.7 84.8 L965.1 74.5 L975.4 71 L980 69.9 L986.9 62.4 L992.6 52.6 L994.9 50.3 L1000.7 42 L1004 38 L1012 42.5 L1018 38 L1026 39 L1027.5 62 L1033.5 76 L1037.4 82.2 L1042.4 68 L1044.7 43.7 L1046 38" fill="none" stroke="#00AEEF" stroke-width="4.1" stroke-dasharray="10.2 6.8 4.1 6.8" clip-path="url(#cpb)" stroke-linejoin="round"/>
<path d="M134.6 907.4 L136 884.65 L136.79 883.45 L137.59 882.26 L138.38 881.09 L139.18 879.94 L139.97 878.81 L140.77 877.69 L141.56 876.59 L142.36 875.5 L143.15 874.43 L143.95 873.37 L144.74 872.33 L145.54 871.31 L146.33 870.3 L147.13 869.3 L147.92 868.32 L148.72 867.35 L149.51 866.39 L150.31 865.45 L151.1 864.52 L151.9 863.6 L152.69 862.69 L153.49 861.8 L154.28 860.92 L155.08 860.05 L155.87 859.19 L156.67 858.34 L157.46 857.51 L158.26 856.68 L159.05 855.87 L159.85 855.06 L160.64 854.26 L161.44 853.48 L162.23 852.7 L163.03 851.93 L163.82 851.17 L164.62 850.42 L165.41 849.67 L166.21 848.94 L167 848.21 L167.8 847.49 L168.59 846.77 L169.39 846.06 L170.18 845.36 L170.98 844.67 L171.77 843.98 L172.57 843.29 L173.36 842.62 L174.16 841.94 L174.95 841.27 L175.75 840.61 L176.54 839.95 L177.34 839.3 L178.13 838.64 L178.93 837.99 L179.72 837.35 L180.52 836.71 L181.31 836.07 L182.11 835.43 L182.9 834.8 L183.7 834.16 L184.49 833.53 L185.29 832.9 L186.08 832.27 L186.88 831.64 L187.67 831.01 L188.47 830.39 L189.26 829.76 L190.06 829.13 L190.85 828.5 L191.65 827.87 L192.44 827.24 L193.24 826.61 L194.03 825.98 L194.83 825.34 L195.62 824.7 L196.42 824.06 L197.21 823.42 L198.01 822.78 L198.8 822.13 L199.6 821.47 L200.39 820.82 L201.19 820.16 L201.98 819.49 L202.78 818.82 L203.57 818.15 L204.37 817.47 L205.16 816.79 L205.96 816.09 L206.75 815.4 L207.55 814.7 L208.34 813.99 L209.14 813.27 L209.93 812.55 L210.73 811.82 L211.52 811.08 L212.32 810.33 L213.11 809.58 L213.91 808.82 L214.7 808.05 L215.5 807.27 L216.29 806.48 L217.09 805.68 L217.88 804.87 L218.68 804.06 L219.47 803.23 L220.27 802.39 L221.06 801.54 L221.86 800.68 L222.65 799.81 L223.45 798.93 L224.24 798.03 L225.04 797.12 L225.83 796.2 L226.63 795.27 L227.42 794.32 L228.22 793.37 L229.01 792.39 L229.81 791.41 L230.6 790.41 L231.93 791.41 L233.3 791.64 L234.67 791.78 L236.04 791.83 L237.4 791.82 L238.77 791.74 L240.14 791.62 L241.5 791.47 L242.87 791.3 L244.24 791.12 L245.61 790.93 L246.98 790.74 L248.36 790.54 L249.73 790.33 L251.1 790.12 L252.48 789.91 L253.85 789.69 L255.23 789.46 L256.6 789.23 L257.98 789 L259.36 788.76 L260.74 788.53 L262.12 788.29 L263.5 788.05 L264.88 787.8 L266.26 787.56 L267.64 787.32 L269.02 787.07 L270.4 786.83 L271.78 786.59 L273.16 786.35 L274.54 786.11 L275.92 785.88 L277.3 785.64 L278.69 785.41 L280.07 785.19 L281.45 784.97 L282.83 784.75 L284.21 784.54 L285.59 784.33 L286.97 784.13 L288.35 783.93 L289.72 783.75 L291.1 783.56 L292.48 783.38 L293.86 783.21 L295.24 783.04 L296.62 782.88 L298 782.72 L299.37 782.57 L300.75 782.43 L302.13 782.29 L303.51 782.16 L304.89 782.03 L306.27 781.91 L307.65 781.8 L309.03 781.69 L310.41 781.58 L311.8 781.49 L313.18 781.39 L314.56 781.31 L315.94 781.23 L317.33 781.16 L318.71 781.09 L320.1 781.03 L321.49 780.97 L322.87 780.93 L324.26 780.88 L325.65 780.85 L327.04 780.82 L328.43 780.79 L329.83 780.78 L331.22 780.77 L332.62 780.76 L334.01 780.76 L335.41 780.77 L336.81 780.79 L338.21 780.81 L339.61 780.84 L341.01 780.87 L342.42 780.91 L343.82 780.96 L345.23 781.02 L346.64 781.08 L348.05 781.14 L349.46 781.22 L350.88 781.3 L352.29 781.39 L353.71 781.48 L355.13 781.59 L356.54 781.7 L357.96 781.83 L359.38 781.96 L360.79 782.1 L362.2 782.26 L363.61 782.43 L365.02 782.61 L366.42 782.81 L367.82 783.02 L369.21 783.24 L370.6 783.48 L371.98 783.74 L373.36 784.02 L374.73 784.31 L376.09 784.62 L377.44 784.94 L378.79 785.29 L380.13 785.66 L381.46 786.05 L382.78 786.46 L384.08 786.89 L385.38 787.35 L386.67 787.82 L387.94 788.33 L389.21 788.85 L390.45 789.41 L391.69 789.99 L392.91 790.59 L394.12 791.22 L395.31 791.88 L396.49 792.57 L397.65 793.29 L398.8 794.04 L399.93 794.82 L401.04 795.62 L402.13 796.46 L403.21 797.33 L404.27 798.23 L405.31 799.15 L406.33 800.11 L407.33 801.08 L408.31 802.08 L409.27 803.11 L410.21 804.16 L411.14 805.23 L412.04 806.32 L412.92 807.43 L413.78 808.56 L414.62 809.71 L415.44 810.87 L416.24 812.05 L417.01 813.25 L417.77 814.46 L418.5 815.69 L419.2 816.93 L419.89 818.18 L420.55 819.44 L421.19 820.71 L421.8 821.99 L422.39 823.28 L422.96 824.57 L423.5 825.88 L424.02 827.18 L424.51 828.49 L424.98 829.81 L425.42 831.13 L425.83 832.45 L426.23 833.77 L426.61 835.09 L426.97 836.42 L427.32 837.75 L427.66 839.08 L427.99 840.41 L428.31 841.74 L428.64 843.08 L428.96 844.41 L429.29 845.75 L429.62 847.09 L429.96 848.43 L430.31 849.77 L430.67 851.11 L431.04 852.45 L431.42 853.8 L431.8 855.14 L432.18 856.49 L432.56 857.84 L432.94 859.19 L433.32 860.54 L433.69 861.9 L434.05 863.26 L434.4 864.61 L434.75 865.98 L435.07 867.34 L435.39 868.71 L435.69 870.08 L435.98 871.45 L436.25 872.82 L436.52 874.19 L436.77 875.57 L437.02 876.94 L437.26 878.32 L437.5 879.7 L437.74 881.08 L437.97 882.46 L438.19 883.84 L438.41 885.22 L438.63 886.6 L438.85 887.97 L439.06 889.36 L439.27 890.74 L439.48 892.12 L439.68 893.5 L439.88 894.88 L440.08 896.26 L440.27 897.64 L440.46 899.02 L440.65 900.41 L440.83 901.79 L441.02 903.17 L441.19 904.56 L441.37 905.94 L441.54 907.32 L441.71 908.71 L441.87 910.09 L442.04 911.48 L442.2 912.86 L442.35 914.25 L442.51 915.63 L442.66 917.02 L442.81 918.4 L442.95 919.79 L443.1 921.18 L443.24 922.56 L443.37 923.95 L443.51 925.34 L443.64 926.72 L443.77 928.11 L443.9 929.5 L444.02 930.89 L444.14 932.28 L444.26 933.66 L444.38 935.05 L444.49 936.44 L444.6 937.83 L444.71 939.22 L444.82 940.61 L444.92 942 L445.03 943.39 L445.13 944.78 L445.22 946.17 L445.32 947.56 L445.41 948.95 L445.5 950.34 L445.59 951.73 L445.67 953.12 L445.76 954.52 L445.84 955.91 L445.92 957.3 L446 958.69 L446.07 960.08 L446.15 961.47 L446.22 962.87 L446.29 964.26 L446.35 965.65 L446.42 967.05 L446.48 968.44 L446.54 969.83 L446.6 971.23 L446.66 972.62 L446.72 974.01 L446.77 975.41 L446.82 976.8 L446.87 978.19 L446.92 979.59 L446.97 980.98 L447.02 982.38 L447.06 983.77 L447.1 985.17 L447.14 986.56 L447.18 987.96 L447.22 989.35 L447.26 990.75 L447.29 992.14 L447.32 993.54 L447.36 994.93 L447.39 996.33 L447.41 997.72 L447.44 999.12 L447.47 1000.52 L447.49 1001.91 L447.52 1003.31 L447.54 1004.7 L447.56 1006.1 L447.58 1007.5 L447.6 1008.89 L447.62 1010.29 L447.63 1011.69 L447.65 1013.08 L447.66 1014.48 L447.67 1015.88 L447.69 1017.27 L447.7 1018.67 L447.71 1020.07 L447.72 1021.46 L447.72 1022.86 L447.73 1024.26 L447.74 1025.66 L447.74 1027.05 L447.75 1028.45 L447.75 1029.85 L447.75 1031.25 L447.76 1032.64 L447.76 1034.04 L447.76 1035.44 L447.76 1036.84 L447.76 1038.23 L447.76 1039.63 L447.75 1041.03 L447.75 1042.43 L447.75 1043.82 L447.74 1045.22 L447.74 1046.62 L447.73 1048.02 L447.73 1049.41 L447.72 1050.81 L447.72 1052.21 L447.71 1053.61 L447.7 1055.01 L447.7 1056.4 L447.69 1057.8 L447.68 1059.2 L447.67 1060.6 L447.67 1061.99 L447.66 1063.39 L447.65 1064.79 L447.64 1066.19 L447.63 1067.59 L447.62 1068.98 L447.61 1070.38 L447.6 1071.78 L447.59 1073.18 L447.58 1074.57 L447.57 1075.97 L447.56 1077.37 L447.55 1078.77 L447.55 1080.16 L447.54 1081.56 L447.53 1082.96 L447.52 1084.35 L447.51 1085.75 L447.5 1087.15 L447.49 1088.55 L447.49 1089.94 L447.48 1091.34 L447.47 1092.74 L447.46 1094.13 L447.46 1095.53 L447.45 1096.93 L447.44 1098.32 L447.44 1099.72 L447.43 1101.12 L447.43 1102.51 L447.42 1103.91 L447.42 1105.3 L447.42 1106.7 L447.42 1108.1 L447.41 1109.49 L447.41 1110.89 L447.41 1112.28 L447.41 1113.68 L447.41 1115.07 L447.42 1116.47 L447.42 1117.86 L447.42 1119.26 L447.42 1120.65 L447.43 1122.05 L447.44 1123.44 L447.44 1124.84 L447.45 1126.23 L447.46 1127.63 L447.47 1129.02 L447.48 1130.42 L447.49 1131.81 L447.5 1133.2 L447.51 1134.6 L447.53 1135.99 L447.54 1137.38 L447.56 1138.78 L447.58 1140.17 L447.6 1141.56 L447.62 1142.96 L447.64 1144.35 L447.66 1145.74 L447.69 1147.13 L447.71 1148.52 L447.74 1149.92 L447.77 1151.31 L447.8 1152.7 L447.83 1154.09 L447.86 1155.48 L447.89 1156.87 L447.93 1158.26 L447.96 1159.65 L448 1161.05 L448.04 1162.44 L448.08 1163.83 L448.13 1165.22 L448.17 1166.6 L448.22 1167.99" fill="none" stroke="#00AEEF" stroke-width="4.1" stroke-linejoin="round"/>
<path d="M149 1167.46 L151.66 1166.66 L154.37 1166.53 L158.23 1154.2 L160 1152.93 L161.91 1167.46 L163.7 1167.18 L167.1 1166.81 L169.4 1167.33 L172.68 1167.39 L175.38 1165.8 L178.67 1166.4 L182.55 1158.12 L184.65 1167.37 L187.06 1166.86 L188.73 1165.92 L192.5 1166.38 L195.54 1167.16 L198.13 1167.37 L199.68 1166.9 L202.93 1165.63 L205.43 1165.89 L208.84 1165.88 L211.95 1158.16 L215.76 1166.58 L213.42 1163.04 L215.38 1179.51 L215.84 1160.93 L218.16 1167.9 L219.46 1169.89 L218.39 1172.44 L218.98 1157.68 L222.66 1168.79 L220.45 1171.5 L221.32 1163.52 L221.21 1163.52 L223.11 1164.49 L225.05 1171.79 L224.24 1171.24 L222.55 1165.78 L227.84 1159.68 L228.77 1151.09 L228.06 1136.35 L227.72 1142.64 L228.32 1145.72 L230.05 1142.11 L231.8 1141.06 L230.63 1137.38 L231.04 1147.04 L231.49 1137.17 L234.09 1131.19 L233.68 1128.14 L234.34 1118.1 L234.56 1121.15 L234.77 1126.58 L234.78 1121.05 L235.49 1126.5 L235.28 1129.66 L237.6 1127.01 L237.57 1117.29 L240.58 1120.66 L239.39 1122.5 L240.92 1114.74 L239.45 1117.86 L240.9 1116.16 L240.15 1114.95 L242.16 1110.81 L238.3 1101.33 L241.48 1114.44 L242.67 1109.01 L243.98 1104.13 L244.4 1108.67 L247.08 1116.05 L244.24 1103.05 L244.84 1095.41 L246.33 1103.76 L247.64 1110.26 L247.69 1108.19 L246.54 1100.41 L248.66 1093.95 L250.64 1088.05 L254.45 1094.07 L251.27 1095.31 L251.99 1086.31 L254.07 1088.96 L251.51 1092.11 L256.26 1093.64 L256.31 1077.21 L256.12 1072.31 L257.14 1081 L256.07 1087.35 L257.03 1082.72 L260.17 1073.32 L261.62 1065.05 L260 1064.06 L261.03 1066.19 L261.87 1072.23 L260.27 1077.76 L262.11 1062.8 L263.04 1056.25 L264.84 1056.72 L262.03 1065.26 L268.13 1062.05 L266.47 1071.61 L266.31 1065.37 L267.73 1054.48 L267.65 1048.19 L270.98 1054.57 L270.54 1049.28 L271.47 1046.93 L269.36 1049.42 L269.87 1054.72 L274.36 1051.81 L273.33 1044.34 L272.75 1048.24 L274 1050.6 L276.1 1049.36 L277.52 1045.79 L276.61 1046.71 L276.88 1028.68 L279.97 1025.58 L278.58 1040.24 L280.27 1027.95 L278.67 1026.68 L281.27 1022.88 L277.94 1034.04 L282.7 1039.42 L281.86 1029.44 L281.53 1037.77 L282.88 1036.88 L287.41 1021.48 L285.44 1008.48 L284.34 1026.46 L286.01 1034.4 L287.85 1031.12 L287.77 1029.33 L289.56 1033.33 L289.97 1023.88 L287.94 1016.4 L289.98 1022.43 L290.02 1027.18 L288.44 1026 L292.46 1015.47 L292.47 1003.27 L292.79 1013.16 L292.74 1012.28 L295.04 1011.25 L294.75 996.36 L295.46 998.54 L295.63 994.86 L295.48 984.04 L298.03 980.33 L293.65 979.33 L299.09 974.34 L299.8 967.54 L298.35 976.68 L299.67 961.87 L299.76 962.09 L299.9 953.01 L301.91 958.56 L301.56 973.48 L304.79 968.4 L306.33 973.21 L305.54 976.73 L306.71 968.16 L304.09 966.61 L305.78 972.75 L308.08 974.98 L308.04 960.16 L309.77 963.99 L310.43 962.98 L311.52 960.44 L313.72 956.22 L314.03 958.08 L311.78 959.22 L313.51 956.44 L314.39 956.56 L314.5 962.95 L314.72 956.94 L315.85 956.16 L317.1 961.81 L317.42 946.03 L317.96 947.18 L317.62 940.63 L320.97 944.2 L317.31 945.93 L320.96 947.06 L319.77 947.75 L323.6 947.8 L322.38 937.03 L322.86 944.58 L323.75 941.97 L322.07 951.56 L324.38 939.61 L326.14 938.58 L327.3 931.45 L328.91 933.91 L327.55 932.56 L328.65 949.07 L331.89 943.03 L330.3 932.53 L330.6 935.2 L330.01 939.34 L330.6 926.71 L332.83 926.95 L333.83 937.89 L333.17 949.53 L335.78 941.79 L333.35 928 L338.7 924.64 L336.22 931.58 L338.01 926.34 L340.03 921.69 L338.38 914.42 L339.29 909.51 L340.71 903.96 L343.61 910.06 L341.53 912.46 L342.94 903.86 L342.59 894.86 L344.17 904 L345.31 893.68 L344.77 903.44 L344.23 907.48 L347.32 899.07 L348.98 898.68 L347.78 903.96 L349.41 908.06 L350.42 898.24 L350.25 895.35 L349.4 904.48 L352.96 900.63 L353.36 893.1 L352.71 897.57 L355.58 894.47 L354.48 896.54 L353.17 884.79 L356.38 883.11 L356.43 882.69 L354.83 894.85 L356.07 899.33 L359.52 896.89 L357.91 881.05 L359.22 878.72 L359.94 885.74 L362.16 888.82 L362.33 894.14 L363.68 887.55 L363.8 889.02 L363.55 890.62 L365.83 870.76 L363.95 876.44 L366.1 875.96 L364.46 875.8 L367.75 874.53 L368.11 881.2 L367.12 861.46 L368.34 850.39 L369.07 861.71 L367.34 857.21 L368.28 866.99 L370.5 853.17 L372.27 849.5 L370.18 845.15 L372.29 855.74 L372.48 846.36 L374.85 852.49 L373.79 841.44 L376.19 848.37 L377.08 832.42 L376.48 840.99 L378.55 831.26 L378.62 828.72 L379.67 831.18 L380.49 834.29 L381.13 832.53 L380.84 823.42 L380.92 816.91 L380.12 816.08 L382.38 808.64 L382 816.12 L383.23 819.45 L383.19 810.36 L384.56 814.11 L384.28 808.3 L385.86 806.69 L387.11 807.85 L388.08 813.84 L390.18 770.04 L393.86 824.02 L397.26 786.3 L400.6 825.68 L404.04 773.15 L407.59 822.76 L411.42 775.55 L414.08 816.64 L416.27 785.69 L419.55 808.85 L422.7 788 L425.17 812.71 L428.35 784.46 L431.24 823.93 L434.53 781.2 M386.06 876.21 L387.96 870.63 L388.57 863.68 L388.51 860.99 L388.14 855.79 L386.55 845.14 L386.06 842.77 L388.37 831.22 L386.3 825.61 L386.71 818.4 L387.69 808.07 L388.18 802.98 L387.84 791.84 L386.08 789.67" fill="none" stroke="#00AEEF" stroke-width="4.1" stroke-dasharray="10.2 6.8 4.1 6.8" stroke-linejoin="miter" stroke-miterlimit="5" clip-path="url(#cpc)"/>
<path d="M438.36 829.04 L431.83 826.72 L435.72 821.19 L433.33 822.94 L437.85 817.58 L438.64 813.38 L431.69 808.88 L432.84 810.05 L433.7 804.46 L436.72 806 L438.35 799.81 L433.05 798.35 L436.05 793.06 L433.42 789.18 L438.63 783.39 L433.26 786.78 L435.23 783.73 L434.99 778.61 L438.8 775.64 L434.39 771.24 L433.43 769.6 L434.18 766.27 L438.52 758.56 L431.58 761.6 L431.71 755.42 L431.56 751.29 L432.64 750.33 L432.1 745.17 L435.88 748.86 L432.61 741.36 M432.42 728.46 L433.25 733.87 L431.39 733.91 L433.79 741.31 L437.95 743.92 L430.62 747.69 L432.3 747.99 L431.02 751.52 L438.23 757.15 L433.88 758.39 L434.22 765.47 L435.17 764.52 L432.51 767.8 L435.58 769.46 L434.38 773.24 L433.45 774.42 L439.12 776.94 L435.61 782.23 L433.76 784.03 L436.87 787.57 L436.09 791.76 L438.72 793.42 L432.94 793.46 L437.84 795.28 L438.56 802.46 M444.29 728.68 L444.18 737.56 L443.81 744.63 L441.96 745.15 L443.1 750.16 L441.87 755.85 L441.95 759.01 L443.93 766.28 L444.2 765.92 L444.77 771.66 L444.7 777.09 L442.99 780.58 L444.52 787.93 L442.04 789.87 L444.02 793.84 L442.07 799.35 L442.11 802.44 L444.91 803.99 L443.73 809.04 L441.59 811.62 L444.83 822.51 L442.52 822.09 L443.02 827.18 L443.73 830.49 L444.08 833.72 L442.97 838.82 L441.56 843.45 L444.21 845 L441.81 852.21 L444.01 856.41 L443 863.11 L444.85 864.2 L442.94 867.03 L443.59 875.65 L444.23 878.23 L442.48 881.42 L443.83 889.74 L442.12 894.05 L443.43 893.81 L443.68 895.6" fill="none" stroke="#00AEEF" stroke-width="4.1" stroke-dasharray="10.2 6.8 4.1 6.8" stroke-linejoin="bevel" clip-path="url(#cpc)"/>
<path d="M443.6 1168 V733" fill="none" stroke="#00AEEF" stroke-width="4.1" stroke-dasharray="10.2 6.8 4.1 6.8" stroke-dashoffset="0" clip-path="url(#cpc)"/>
<path d="M446.6 1168 V733" fill="none" stroke="#00AEEF" stroke-width="4.1" stroke-dasharray="10.2 6.8 4.1 6.8" stroke-dashoffset="14" clip-path="url(#cpc)"/>
<path d="M445.0 1168 V733" fill="none" stroke="#00AEEF" stroke-width="4.1" stroke-dasharray="10.2 6.8 4.1 6.8" stroke-dashoffset="7" clip-path="url(#cpc)"/>
<text x="-2.04" y="24.6" font-family='"Liberation Sans", sans-serif' font-size="34" >(a)</text>
<text x="617.96" y="24.6" font-family='"Liberation Sans", sans-serif' font-size="34" >(b)</text>
<text x="46.96" y="715" font-family='"Liberation Sans", sans-serif' font-size="34" >(c)</text>
<text x="130.8" y="515.3" font-family='"Liberation Serif", serif' font-size="35.2" text-anchor="middle">0.0</text>
<text x="193.6" y="515.3" font-family='"Liberation Serif", serif' font-size="35.2" text-anchor="middle">0.2</text>
<text x="256.4" y="515.3" font-family='"Liberation Serif", serif' font-size="35.2" text-anchor="middle">0.4</text>
<text x="319.2" y="515.3" font-family='"Liberation Serif", serif' font-size="35.2" text-anchor="middle">0.6</text>
<text x="382" y="515.3" font-family='"Liberation Serif", serif' font-size="35.2" text-anchor="middle">0.8</text>
<text x="444.8" y="515.3" font-family='"Liberation Serif", serif' font-size="35.2" text-anchor="middle">1.0</text>
<text x="744.9" y="515.3" font-family='"Liberation Serif", serif' font-size="35.2" text-anchor="middle">0.0</text>
<text x="807.74" y="515.3" font-family='"Liberation Serif", serif' font-size="35.2" text-anchor="middle">0.2</text>
<text x="870.58" y="515.3" font-family='"Liberation Serif", serif' font-size="35.2" text-anchor="middle">0.4</text>
<text x="933.42" y="515.3" font-family='"Liberation Serif", serif' font-size="35.2" text-anchor="middle">0.6</text>
<text x="996.26" y="515.3" font-family='"Liberation Serif", serif' font-size="35.2" text-anchor="middle">0.8</text>
<text x="1059.1" y="515.3" font-family='"Liberation Serif", serif' font-size="35.2" text-anchor="middle">1.0</text>
<text x="134.6" y="1203.3" font-family='"Liberation Serif", serif' font-size="35.2" text-anchor="middle">0.0</text>
<text x="197.5" y="1203.3" font-family='"Liberation Serif", serif' font-size="35.2" text-anchor="middle">0.2</text>
<text x="260.4" y="1203.3" font-family='"Liberation Serif", serif' font-size="35.2" text-anchor="middle">0.4</text>
<text x="323.3" y="1203.3" font-family='"Liberation Serif", serif' font-size="35.2" text-anchor="middle">0.6</text>
<text x="386.2" y="1203.3" font-family='"Liberation Serif", serif' font-size="35.2" text-anchor="middle">0.8</text>
<text x="449.1" y="1203.3" font-family='"Liberation Serif", serif' font-size="35.2" text-anchor="middle">1.0</text>
<text x="456.4" y="491.9" font-family='"Liberation Serif", serif' font-size="35.2">0.0</text>
<text x="456.4" y="382.52" font-family='"Liberation Serif", serif' font-size="35.2">0.5</text>
<text x="456.4" y="273.15" font-family='"Liberation Serif", serif' font-size="35.2">1.0</text>
<text x="456.4" y="163.77" font-family='"Liberation Serif", serif' font-size="35.2">1.5</text>
<text x="456.4" y="54.4" font-family='"Liberation Serif", serif' font-size="35.2">2.0</text>
<text x="1125.4" y="54.6" font-family='"Liberation Serif", serif' font-size="35.2" text-anchor="end">0.0</text>
<text x="1125.4" y="163.9" font-family='"Liberation Serif", serif' font-size="35.2" text-anchor="end">-0.5</text>
<text x="1125.4" y="273.2" font-family='"Liberation Serif", serif' font-size="35.2" text-anchor="end">-1.0</text>
<text x="1125.4" y="382.5" font-family='"Liberation Serif", serif' font-size="35.2" text-anchor="end">-1.5</text>
<text x="1125.4" y="491.8" font-family='"Liberation Serif", serif' font-size="35.2" text-anchor="end">-2.0</text>
<text x="460" y="1179.5" font-family='"Liberation Serif", serif' font-size="35.2">0.00</text>
<text x="460" y="1070.17" font-family='"Liberation Serif", serif' font-size="35.2">0.25</text>
<text x="460" y="960.85" font-family='"Liberation Serif", serif' font-size="35.2">0.50</text>
<text x="460" y="851.53" font-family='"Liberation Serif", serif' font-size="35.2">0.75</text>
<text x="460" y="742.2" font-family='"Liberation Serif", serif' font-size="35.2">1.00</text>
<text x="277.37" y="557.7" font-family='"Liberation Serif", serif' font-size="36.4" font-style="italic"  textLength="21.64" lengthAdjust="spacingAndGlyphs">η</text>
<text x="893.27" y="557.7" font-family='"Liberation Serif", serif' font-size="36.4" font-style="italic"  textLength="21.64" lengthAdjust="spacingAndGlyphs">η</text>
<text x="280.27" y="1245.8" font-family='"Liberation Serif", serif' font-size="36.4" font-style="italic"  textLength="21.64" lengthAdjust="spacingAndGlyphs">η</text>
<text x="181.89" y="623" font-family='"Liberation Serif", serif' font-size="30.4">Bending moment</text>
<text x="791.02" y="623" font-family='"Liberation Serif", serif' font-size="30.4">Torsional moment</text>
<text x="166.53" y="1303" font-family='"Liberation Serif", serif' font-size="30.4">Local lift coefficient</text>
<text x="13.18" y="112.3" font-family='"Liberation Serif", serif' font-size="35" >2</text>
<circle cx="43.2" cy="103.3" r="2.1" fill="#000"/>
<text x="55.73" y="112.3" font-family='"Liberation Serif", serif' font-size="35" >1</text>
<text x="71.1" y="112.3" font-family='"Liberation Serif", serif' font-size="35" >0</text>
<text x="87.58" y="100.8" font-family='"Liberation Serif", serif' font-size="25.5" >6</text>
<line x1="114.6" y1="51.3" x2="114.6" y2="144.9" stroke="#000" stroke-width="3" />
<path d="M114.6 43.3 L121.6 57.3 L114.6 52.3 L107.6 57.3 Z" fill="#000"/>
<path d="M114.6 152.9 L121.6 138.9 L114.6 143.9 L107.6 138.9 Z" fill="#000"/>
<text x="627.27" y="112.3" font-family='"Liberation Serif", serif' font-size="35" >2</text>
<circle cx="657.3" cy="103.3" r="2.1" fill="#000"/>
<text x="669.83" y="112.3" font-family='"Liberation Serif", serif' font-size="35" >1</text>
<text x="685.2" y="112.3" font-family='"Liberation Serif", serif' font-size="35" >0</text>
<text x="701.17" y="100.8" font-family='"Liberation Serif", serif' font-size="25.5" >5</text>
<line x1="728.7" y1="51.3" x2="728.7" y2="144.9" stroke="#000" stroke-width="3" />
<path d="M728.7 43.3 L735.7 57.3 L728.7 52.3 L721.7 57.3 Z" fill="#000"/>
<path d="M728.7 152.9 L735.7 138.9 L728.7 143.9 L721.7 138.9 Z" fill="#000"/>
<text x="46.15" y="797.4" font-family='"Liberation Serif", serif' font-size="35"  textLength="59.07" lengthAdjust="spacingAndGlyphs">0.25</text>
<line x1="118.5" y1="739.2" x2="118.5" y2="832.5" stroke="#000" stroke-width="3" />
<path d="M118.5 731.2 L125.5 745.2 L118.5 740.2 L111.5 745.2 Z" fill="#000"/>
<path d="M118.5 840.5 L125.5 826.5 L118.5 831.5 L111.5 826.5 Z" fill="#000"/>
<text transform="rotate(-90)" x="-310.47" y="84.6" font-family='"Liberation Serif", serif' font-size="33.5" font-style="italic">M</text>
<text transform="rotate(-90)" x="-282.65" y="90" font-family='"Liberation Serif", serif' font-size="25" font-style="italic">B</text>
<text transform="rotate(-90)" x="-268.3" y="90" font-family='"Liberation Serif", serif' font-size="25">,</text>
<text transform="rotate(-90)" x="-262.57" y="90" font-family='"Liberation Serif", serif' font-size="25" font-style="italic">q</text>
<text transform="rotate(-90)" x="-249.95" y="90" font-family='"Liberation Serif", serif' font-size="25">=</text>
<text transform="rotate(-90)" x="-235.2" y="90" font-family='"Liberation Serif", serif' font-size="25">0</text>
<text transform="rotate(-90)" x="-211.42" y="84.6" font-family='"Liberation Serif", serif' font-size="33.5" textLength="69.77" lengthAdjust="spacingAndGlyphs">[Nm]</text>
<line x1="75" y1="323.1" x2="75" y2="381.1" stroke="#00AEEF" stroke-width="4.1" />
<text transform="rotate(-90)" x="-310.47" y="698.7" font-family='"Liberation Serif", serif' font-size="33.5" font-style="italic">M</text>
<text transform="rotate(-90)" x="-284.02" y="704.1" font-family='"Liberation Serif", serif' font-size="25" font-style="italic">T</text>
<text transform="rotate(-90)" x="-268.3" y="704.1" font-family='"Liberation Serif", serif' font-size="25">,</text>
<text transform="rotate(-90)" x="-262.57" y="704.1" font-family='"Liberation Serif", serif' font-size="25" font-style="italic">q</text>
<text transform="rotate(-90)" x="-249.95" y="704.1" font-family='"Liberation Serif", serif' font-size="25">=</text>
<text transform="rotate(-90)" x="-235.2" y="704.1" font-family='"Liberation Serif", serif' font-size="25">0</text>
<text transform="rotate(-90)" x="-211.42" y="698.7" font-family='"Liberation Serif", serif' font-size="33.5" textLength="69.77" lengthAdjust="spacingAndGlyphs">[Nm]</text>
<line x1="689.1" y1="323.1" x2="689.1" y2="381.1" stroke="#00AEEF" stroke-width="4.1" />
<text transform="rotate(-90)" x="-952" y="89.5" font-family='"Liberation Serif", serif' font-size="33.5" font-style="italic">c</text>
<text transform="rotate(-90)" x="-936.65" y="94" font-family='"Liberation Serif", serif' font-size="25" font-style="italic">L</text>
<text transform="rotate(-90)" x="-922.7" y="94" font-family='"Liberation Serif", serif' font-size="25">,</text>
<text transform="rotate(-90)" x="-917.77" y="94" font-family='"Liberation Serif", serif' font-size="25" font-style="italic">q</text>
<text transform="rotate(-90)" x="-906.05" y="94" font-family='"Liberation Serif", serif' font-size="25">=</text>
<text transform="rotate(-90)" x="-891.3" y="94" font-family='"Liberation Serif", serif' font-size="25">0</text>
<line x1="78.8" y1="962.8" x2="78.8" y2="1020.8" stroke="#00AEEF" stroke-width="4.1" />
<text transform="rotate(-90)" x="-278.88" y="537.2" font-family='"Liberation Serif", serif' font-size="22">Δ</text>
<text transform="rotate(-90)" x="-264.58" y="537.2" font-family='"Liberation Serif", serif' font-size="22" font-style="italic">M</text>
<text transform="rotate(-90)" x="-245.47" y="542.4" font-family='"Liberation Serif", serif' font-size="16.5" font-style="italic">B</text>
<line x1="545.1" y1="216.5" x2="545.1" y2="295.4" stroke="#000" stroke-width="1.9" />
<line x1="548.3" y1="291.6" x2="571.3" y2="291.6" stroke="#000" stroke-width="2.0" />
<line x1="548.3" y1="219.5" x2="571.3" y2="219.5" stroke="#000" stroke-width="2.0" />
<text transform="rotate(-90)" x="-286.98" y="567.3" font-family='"Liberation Serif", serif' font-size="22" font-style="italic">M</text>
<text transform="rotate(-90)" x="-266.17" y="570.8" font-family='"Liberation Serif", serif' font-size="16.5" font-style="italic">B</text>
<text transform="rotate(-90)" x="-256.66" y="570.8" font-family='"Liberation Serif", serif' font-size="16.5">,</text>
<text transform="rotate(-90)" x="-252.58" y="570.8" font-family='"Liberation Serif", serif' font-size="16.5" font-style="italic">q</text>
<text transform="rotate(-90)" x="-242.82" y="570.8" font-family='"Liberation Serif", serif' font-size="16.5">=0</text>
<text transform="rotate(-90)" x="-204.21" y="554" font-family='"Liberation Serif", serif' font-size="33.5">[</text>
<text transform="rotate(-90)" x="-166.17" y="554" font-family='"Liberation Serif", serif' font-size="33.5">]</text>
<g transform="translate(0,0)" fill="none" stroke="#000"><ellipse cx="536.9" cy="186.3" rx="6.1" ry="3.9" transform="rotate(27 536.9 186.3)" stroke-width="1.7"/><ellipse cx="546.7" cy="173.2" rx="6.1" ry="3.9" transform="rotate(27 546.7 173.2)" stroke-width="1.7"/><path d="M530.3 172.8 L553.7 186.9" stroke-width="1.3"/><path d="M532.4 174.6 Q532.6 178.5 531.6 181.8" stroke-width="0.9"/></g>
<path d="M543.6 368.3 V310.3" stroke="#00AEEF" stroke-width="4.1" stroke-dasharray="10.2 6.8 4.1 6.8" fill="none"/>
<text transform="rotate(-90)" x="-278.88" y="1162.8" font-family='"Liberation Serif", serif' font-size="22">Δ</text>
<text transform="rotate(-90)" x="-264.58" y="1162.8" font-family='"Liberation Serif", serif' font-size="22" font-style="italic">M</text>
<text transform="rotate(-90)" x="-246.37" y="1168" font-family='"Liberation Serif", serif' font-size="16.5" font-style="italic">T</text>
<line x1="1170.7" y1="216.5" x2="1170.7" y2="295.4" stroke="#000" stroke-width="1.9" />
<line x1="1173.9" y1="291.6" x2="1196.9" y2="291.6" stroke="#000" stroke-width="2.0" />
<line x1="1173.9" y1="219.5" x2="1196.9" y2="219.5" stroke="#000" stroke-width="2.0" />
<text transform="rotate(-90)" x="-286.98" y="1192.9" font-family='"Liberation Serif", serif' font-size="22" font-style="italic">M</text>
<text transform="rotate(-90)" x="-267.07" y="1196.4" font-family='"Liberation Serif", serif' font-size="16.5" font-style="italic">T</text>
<text transform="rotate(-90)" x="-256.66" y="1196.4" font-family='"Liberation Serif", serif' font-size="16.5">,</text>
<text transform="rotate(-90)" x="-252.58" y="1196.4" font-family='"Liberation Serif", serif' font-size="16.5" font-style="italic">q</text>
<text transform="rotate(-90)" x="-242.82" y="1196.4" font-family='"Liberation Serif", serif' font-size="16.5">=0</text>
<text transform="rotate(-90)" x="-204.21" y="1179.6" font-family='"Liberation Serif", serif' font-size="33.5">[</text>
<text transform="rotate(-90)" x="-166.17" y="1179.6" font-family='"Liberation Serif", serif' font-size="33.5">]</text>
<g transform="translate(625.6,0)" fill="none" stroke="#000"><ellipse cx="536.9" cy="186.3" rx="6.1" ry="3.9" transform="rotate(27 536.9 186.3)" stroke-width="1.7"/><ellipse cx="546.7" cy="173.2" rx="6.1" ry="3.9" transform="rotate(27 546.7 173.2)" stroke-width="1.7"/><path d="M530.3 172.8 L553.7 186.9" stroke-width="1.3"/><path d="M532.4 174.6 Q532.6 178.5 531.6 181.8" stroke-width="0.9"/></g>
<path d="M1169.2 368.3 V310.3" stroke="#00AEEF" stroke-width="4.1" stroke-dasharray="10.2 6.8 4.1 6.8" fill="none"/>
<text transform="rotate(-90)" x="-982.67" y="571" font-family='"Liberation Serif", serif' font-size="24.3">Δ</text>
<text transform="rotate(-90)" x="-965.29" y="571.4" font-family='"Liberation Serif", serif' font-size="33" font-style="italic">c</text>
<text transform="rotate(-90)" x="-949.55" y="575.8" font-family='"Liberation Serif", serif' font-size="24.5" font-style="italic">L</text>
<text transform="rotate(-90)" x="-926.09" y="572.1" font-family='"Liberation Serif", serif' font-size="34.5">[</text>
<text transform="rotate(-90)" x="-916.33" y="571.5" font-family='"Liberation Serif", serif' font-size="34.5">10</text>
<text transform="rotate(-90)" x="-882.55" y="559.5" font-family='"Liberation Serif", serif' font-size="25">−</text>
<text transform="rotate(-90)" x="-868.23" y="559" font-family='"Liberation Serif", serif' font-size="25">2</text>
<text transform="rotate(-90)" x="-852.81" y="572.1" font-family='"Liberation Serif", serif' font-size="34.5">]</text>
<path d="M561.3 1055.2 V997.7" stroke="#00AEEF" stroke-width="4.1" stroke-dasharray="10.2 6.8 4.1 6.8" fill="none"/>
<rect x="680.9" y="882.7" width="431.1" height="178.3" fill="none" stroke="#444" stroke-width="1.6" stroke-linejoin="round"/>
<line x1="693" y1="930.6" x2="751" y2="930.6" stroke="#00AEEF" stroke-width="4.1" />
<path d="M693 1013 H751" stroke="#00AEEF" stroke-width="4.1" stroke-dasharray="10.2 6.8 4.1 6.8" fill="none"/>
<text x="761.5" y="919" font-family='"Liberation Serif", serif' font-size="33.4"  textLength="325.12" lengthAdjust="spacingAndGlyphs">without pitching motion</text>
<text x="874.4" y="960" font-family='"Liberation Serif", serif' font-size="33.4" >(</text>
<text x="884.83" y="960" font-family='"Liberation Serif", serif' font-size="33.4" font-style="italic" >q</text>
<line x1="914" y1="948" x2="930.9" y2="948" stroke="#000" stroke-width="2.0" />
<line x1="914" y1="954.9" x2="930.9" y2="954.9" stroke="#000" stroke-width="2.0" />
<text x="942.26" y="960" font-family='"Liberation Serif", serif' font-size="33.4" >0)</text>
<text x="758.64" y="1001.2" font-family='"Liberation Serif", serif' font-size="33.4"  textLength="338.48" lengthAdjust="spacingAndGlyphs">effect of pitching motion</text>
<text x="827.7" y="1041.8" font-family='"Liberation Serif", serif' font-size="33.4" >(</text>
<text x="838.03" y="1041.8" font-family='"Liberation Serif", serif' font-size="33.4" font-style="italic" >q</text>
<line x1="867" y1="1030.1" x2="884.1" y2="1030.1" stroke="#000" stroke-width="2.0" />
<line x1="867" y1="1036.9" x2="884.1" y2="1036.9" stroke="#000" stroke-width="2.0" />
<text x="896.23" y="1041.8" font-family='"Liberation Serif", serif' font-size="33.4" >4.9816</text>
<text x="1002.17" y="1034" font-family='"Liberation Serif", serif' font-size="23" >°</text>
<line x1="1001.3" y1="1033.6" x2="1011" y2="1033.6" stroke="#000" stroke-width="1.8" />
<text x="1001.08" y="1054.6" font-family='"Liberation Serif", serif' font-size="23" >s</text>
<text x="1015" y="1041.8" font-family='"Liberation Serif", serif' font-size="33.4" >)</text>
</svg>
</body></html>
